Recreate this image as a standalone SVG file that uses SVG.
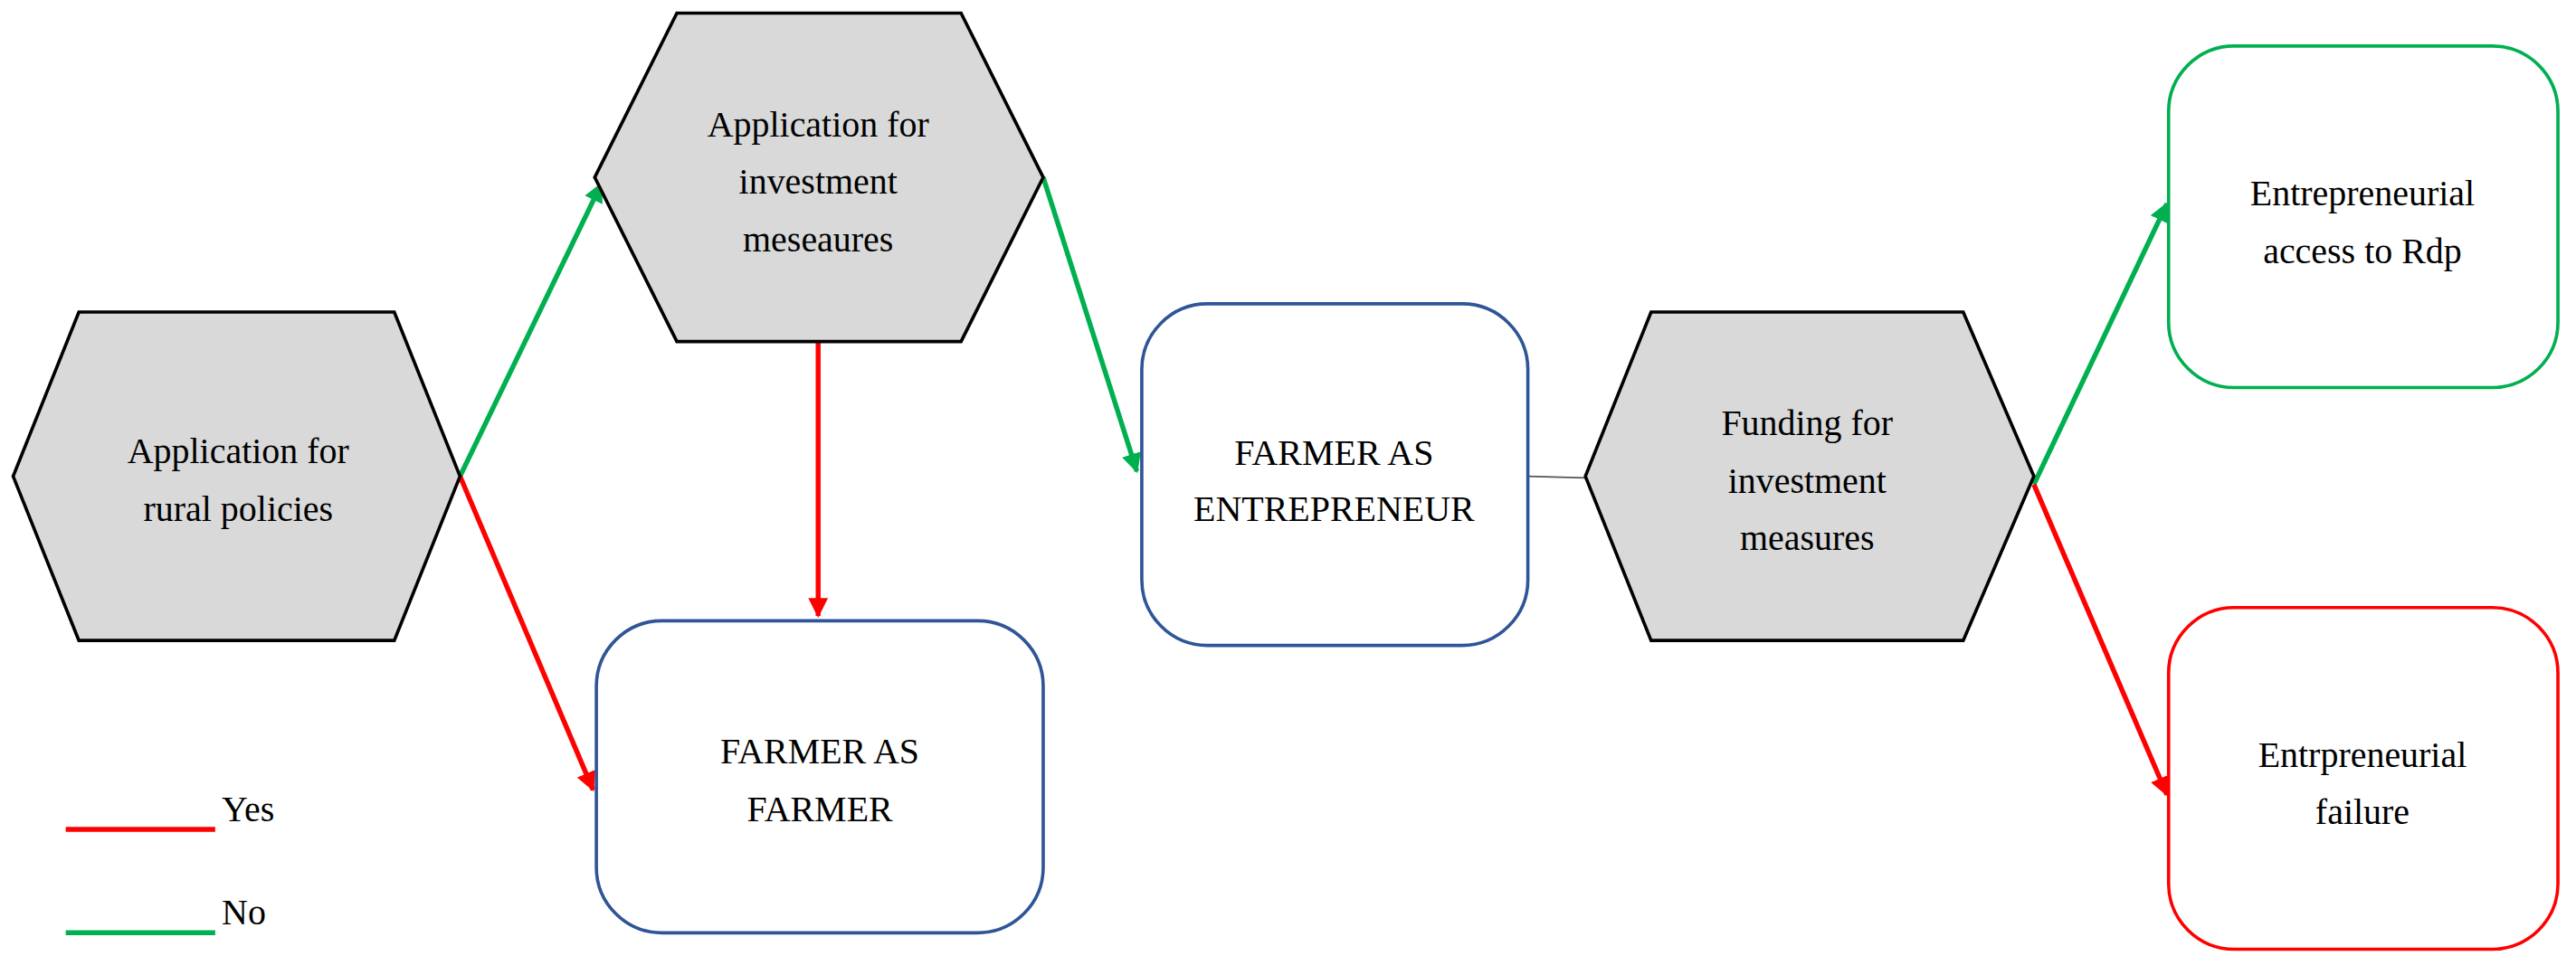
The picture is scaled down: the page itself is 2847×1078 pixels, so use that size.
<svg xmlns="http://www.w3.org/2000/svg" width="2847" height="1078" viewBox="0 0 2847 1078">
<style>
.hex{fill:#d9d9d9;stroke:#000;stroke-width:2}
.bx{fill:#fff;stroke-width:2}
text{font-family:"Liberation Serif",serif;font-size:22px;fill:#000;text-anchor:middle}
.lg{text-anchor:start}
.r{stroke:#ff0000;stroke-width:3;fill:none}
.g{stroke:#00b050;stroke-width:3;fill:none}
</style>
<defs>
<marker id="ar" viewBox="0 0 10 10" refX="9" refY="5" markerWidth="4" markerHeight="4" orient="auto"><path d="M0,0L10,5L0,10z" fill="#ff0000"/></marker>
<marker id="ag" viewBox="0 0 10 10" refX="9" refY="5" markerWidth="4" markerHeight="4" orient="auto"><path d="M0,0L10,5L0,10z" fill="#00b050"/></marker>
</defs>
<rect width="2847" height="1078" fill="#fff"/>
<g transform="scale(1.8157)">
<g id="connectors">
<line class="g" x1="280" y1="290" x2="366" y2="112" marker-end="url(#ag)"/>
<line class="r" x1="280" y1="290" x2="361" y2="481" marker-end="url(#ar)"/>
<line class="r" x1="498" y1="208" x2="498" y2="375" marker-end="url(#ar)"/>
<line class="g" x1="635" y1="108" x2="692" y2="287" marker-end="url(#ag)"/>
<line stroke="#555" stroke-width="1" x1="930" y1="290" x2="965" y2="291"/>
<line class="g" x1="1238" y1="295" x2="1319" y2="124" marker-end="url(#ag)"/>
<line class="r" x1="1238" y1="295" x2="1319" y2="484" marker-end="url(#ar)"/>
</g>
<g id="n1"><polygon class="hex" points="8,290 48,190 240,190 280,290 240,390 48,390"/><text x="145" y="282">Application for</text><text x="145" y="317">rural policies</text></g>
<g id="n2"><polygon class="hex" points="362,108 412,8 585,8 635,108 585,208 412,208"/><text x="498" y="83">Application for</text><text x="498" y="118">investment</text><text x="498" y="153">meseaures</text></g>
<g id="n3"><rect class="bx" stroke="#2f5597" x="363" y="378" width="272" height="190" rx="40"/><text x="499" y="465">FARMER AS</text><text x="499" y="500">FARMER</text></g>
<g id="n4"><rect class="bx" stroke="#2f5597" x="695" y="185" width="235" height="208" rx="40"/><text x="812" y="283">FARMER AS</text><text x="812" y="317">ENTREPRENEUR</text></g>
<g id="n5"><polygon class="hex" points="965,290 1005,190 1195,190 1238,290 1195,390 1005,390"/><text x="1100" y="265">Funding for</text><text x="1100" y="300">investment</text><text x="1100" y="335">measures</text></g>
<g id="n6"><rect class="bx" stroke="#00b050" x="1320" y="28" width="237" height="208" rx="40"/><text x="1438" y="125">Entrepreneurial</text><text x="1438" y="160">access to Rdp</text></g>
<g id="n7"><rect class="bx" stroke="#ff0000" x="1320" y="370" width="237" height="208" rx="40"/><text x="1438" y="467">Entrpreneurial</text><text x="1438" y="502">failure</text></g>
<g id="legend">
<line class="r" x1="40" y1="505" x2="131" y2="505"/><text class="lg" x="135" y="500">Yes</text>
<line class="g" x1="40" y1="568" x2="131" y2="568"/><text class="lg" x="135" y="563">No</text>
</g>
</g>
</svg>
